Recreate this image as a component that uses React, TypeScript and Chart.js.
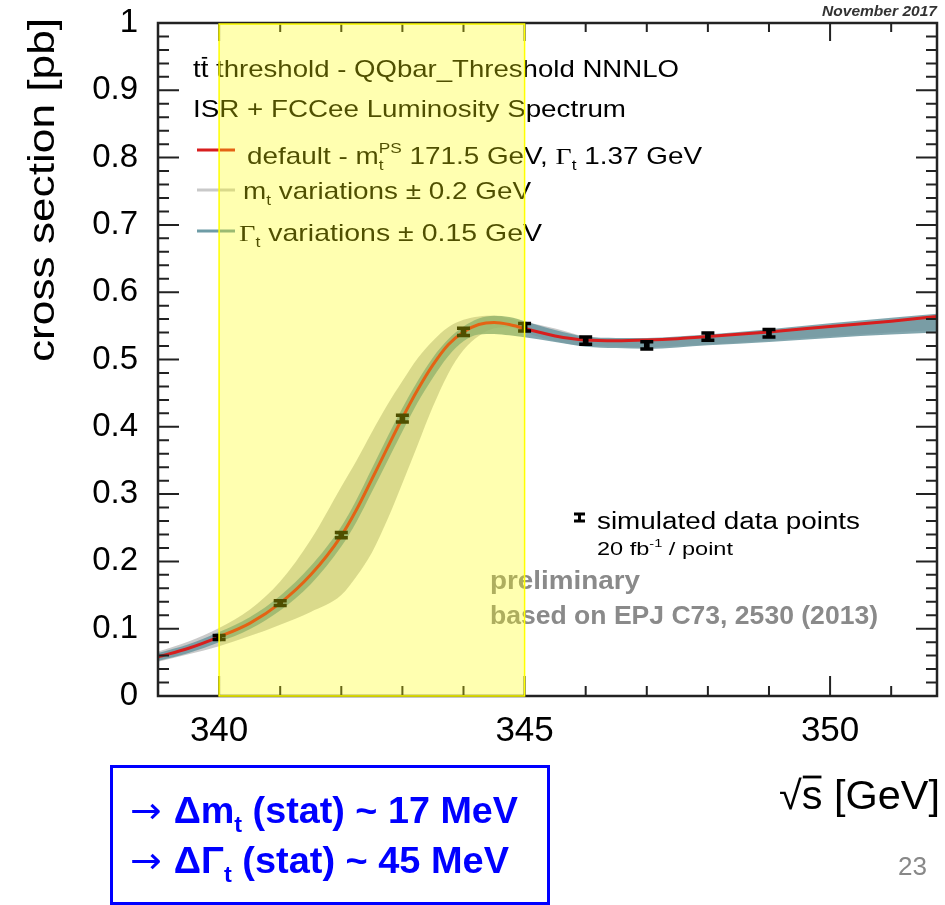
import React, { useEffect, useRef } from "react";
import { Chart, registerables } from "chart.js";

Chart.register(...registerables);

// ---------------- data ----------------
const curveSqrtS = [339, 339.5, 340, 340.5, 341, 341.5, 342, 342.25, 342.5, 342.75, 343, 343.25, 343.5, 343.75, 344, 344.25, 344.5, 344.75, 345, 345.5, 346, 346.5, 347, 347.5, 348, 349, 350, 351, 351.75];
const defaultXsec = [0.058, 0.071, 0.088, 0.108, 0.138, 0.18, 0.238, 0.277, 0.322, 0.368, 0.413, 0.455, 0.492, 0.522, 0.541, 0.552, 0.555, 0.552, 0.546, 0.535, 0.529, 0.528, 0.529, 0.531, 0.534, 0.541, 0.549, 0.557, 0.564];
const mtVarUpper = [0.066, 0.081, 0.101, 0.128, 0.17, 0.232, 0.311, 0.35, 0.392, 0.432, 0.468, 0.502, 0.528, 0.548, 0.559, 0.564, 0.565, 0.561, 0.556, 0.546, 0.534, 0.531, 0.531, 0.533, 0.536, 0.543, 0.551, 0.559, 0.565];
const mtVarLower = [0.051, 0.062, 0.074, 0.089, 0.106, 0.125, 0.15, 0.178, 0.213, 0.261, 0.316, 0.373, 0.43, 0.479, 0.514, 0.535, 0.546, 0.548, 0.54, 0.527, 0.52, 0.519, 0.518, 0.52, 0.522, 0.528, 0.534, 0.54, 0.544];
const gtVarUpper = [0.064, 0.077, 0.095, 0.117, 0.149, 0.193, 0.252, 0.292, 0.338, 0.384, 0.428, 0.468, 0.503, 0.53, 0.549, 0.561, 0.565, 0.563, 0.557, 0.544, 0.534, 0.532, 0.532, 0.534, 0.537, 0.545, 0.554, 0.562, 0.568];
const gtVarLower = [0.052, 0.064, 0.08, 0.099, 0.127, 0.166, 0.222, 0.259, 0.303, 0.348, 0.393, 0.436, 0.473, 0.505, 0.527, 0.537, 0.538, 0.536, 0.533, 0.526, 0.519, 0.517, 0.516, 0.518, 0.521, 0.526, 0.532, 0.537, 0.54];

const pointSqrtS = [340, 341, 342, 343, 344, 345, 346, 347, 348, 349];
const pointXsec = [0.087, 0.138, 0.239, 0.412, 0.541, 0.548, 0.528, 0.521, 0.534, 0.539];
const pointErr = [0.003, 0.0035, 0.004, 0.005, 0.0055, 0.0055, 0.0055, 0.0055, 0.0055, 0.0055];

const xTickValues = [340, 345, 350];
const xTickLabels = ["340", "345", "350"];
const yTickValues = [0, 0.1, 0.2, 0.3, 0.4, 0.5, 0.6, 0.7, 0.8, 0.9, 1];
const yTickLabels = ["0", "0.1", "0.2", "0.3", "0.4", "0.5", "0.6", "0.7", "0.8", "0.9", "1"];
const highlightRange = [340, 345];
const xRange = [339, 351.75];

const SANS = '"Liberation Sans", Arial, Helvetica, sans-serif';
const SERIF = '"Liberation Serif", "Times New Roman", serif';
const DEJAVU = '"DejaVu Sans", sans-serif';

type Seg = { t: string; k?: "sub" | "sup" | "subz" | "bar"; fam?: string; thin?: boolean };

function drawRich(
  ctx: CanvasRenderingContext2D,
  segs: Seg[],
  x: number,
  y: number,
  size: number,
  color: string,
  o: { weight?: string; style?: string; width?: number } = {}
) {
  const weight = o.weight || "normal";
  const style = o.style || "normal";
  let total = 0;
  let pendingSub = 0;
  const parts = segs.map((s) => {
    const small = s.k === "sub" || s.k === "sup" || s.k === "subz";
    const sz = small ? size * 0.62 : size;
    const wt = s.thin ? "normal" : weight;
    const font = `${style} ${wt} ${sz}px ${s.fam || SANS}`;
    ctx.font = font;
    const w = ctx.measureText(s.t).width;
    let adv = w;
    if (s.k === "subz") {
      pendingSub = w;
      adv = 0;
    } else if (pendingSub) {
      adv = Math.max(w, pendingSub);
      pendingSub = 0;
    }
    const dy = s.k === "sup" ? -size * 0.45 : s.k === "sub" || s.k === "subz" ? size * 0.24 : 0;
    total += adv;
    return { s, font, w, adv, dy };
  });
  const sx = o.width ? o.width / total : 1;
  ctx.save();
  ctx.translate(x, y);
  ctx.scale(sx, 1);
  ctx.fillStyle = color;
  ctx.strokeStyle = color;
  ctx.textAlign = "left";
  ctx.textBaseline = "alphabetic";
  let cx = 0;
  for (const p of parts) {
    ctx.font = p.font;
    ctx.fillText(p.s.t, cx, p.dy);
    if (p.s.k === "bar") {
      ctx.lineWidth = size * 0.07;
      ctx.beginPath();
      ctx.moveTo(cx + 1, -size * 0.8);
      ctx.lineTo(cx + p.w - 1, -size * 0.8);
      ctx.stroke();
    }
    cx += p.adv;
  }
  ctx.restore();
}

const curve = (vals: number[]) => curveSqrtS.map((x, i) => ({ x, y: vals[i] }));

export default function App() {
  const ref = useRef<HTMLCanvasElement | null>(null);

  useEffect(() => {
    const canvas = ref.current;
    if (!canvas) return;

    const decorPlugin = {
      id: "decor",
      afterDatasetsDraw(chart: any) {
        const ctx: CanvasRenderingContext2D = chart.ctx;
        const xs = chart.scales.x;
        const ys = chart.scales.y;
        const { left, right, top, bottom } = chart.chartArea;

        // error bars
        const meta = chart.getDatasetMeta(0);
        ctx.save();
        ctx.strokeStyle = "#000";
        ctx.lineWidth = 3.5;
        meta.data.forEach((pt: any, i: number) => {
          const y1 = ys.getPixelForValue(pointXsec[i] + pointErr[i]);
          const y2 = ys.getPixelForValue(pointXsec[i] - pointErr[i]);
          ctx.beginPath();
          ctx.moveTo(pt.x, y1);
          ctx.lineTo(pt.x, y2);
          ctx.moveTo(pt.x - 6.5, y1);
          ctx.lineTo(pt.x + 6.5, y1);
          ctx.moveTo(pt.x - 6.5, y2);
          ctx.lineTo(pt.x + 6.5, y2);
          ctx.stroke();
        });
        ctx.restore();

        // frame
        ctx.save();
        ctx.strokeStyle = "#222";
        ctx.lineWidth = 2.5;
        ctx.strokeRect(left, top, right - left, bottom - top);
        ctx.lineWidth = 2;
        ctx.beginPath();
        for (let k = 0; k <= 50; k++) {
          const v = k / 50;
          const yy = ys.getPixelForValue(v);
          const len = k % 5 === 0 ? 21 : 11;
          ctx.moveTo(left, yy);
          ctx.lineTo(left + len, yy);
          ctx.moveTo(right, yy);
          ctx.lineTo(right - len, yy);
        }
        for (let g = 340; g <= 351; g++) {
          const xx = xs.getPixelForValue(g);
          const major = g % 5 === 0;
          ctx.moveTo(xx, bottom);
          ctx.lineTo(xx, bottom - (major ? 20 : 10));
          ctx.moveTo(xx, top);
          ctx.lineTo(xx, top + (major ? 18 : 9));
        }
        ctx.stroke();
        ctx.restore();

        // legend inside the frame
        drawRich(ctx, [{ t: "t" }, { t: "t", k: "bar" }, { t: " threshold - QQbar_Threshold NNNLO" }], 193, 77, 24, "#000", { width: 486 });
        drawRich(ctx, [{ t: "ISR + FCCee Luminosity Spectrum" }], 193, 117, 24, "#000", { width: 433 });
        const samples: [number, string][] = [
          [150, "#d81e1e"],
          [190, "#c9c9c9"],
          [231, "#6e9ca6"],
        ];
        ctx.save();
        ctx.lineWidth = 3;
        samples.forEach(([yy, c]) => {
          ctx.strokeStyle = c;
          ctx.beginPath();
          ctx.moveTo(197, yy);
          ctx.lineTo(235, yy);
          ctx.stroke();
        });
        ctx.restore();
        drawRich(
          ctx,
          [
            { t: "default - m" },
            { t: "t", k: "subz" },
            { t: "PS", k: "sup" },
            { t: " 171.5 GeV, " },
            { t: "\u0393", fam: SERIF },
            { t: "t", k: "sub" },
            { t: " 1.37 GeV" },
          ],
          247,
          164,
          24,
          "#000",
          { width: 455 }
        );
        drawRich(ctx, [{ t: "m" }, { t: "t", k: "sub" }, { t: " variations \u00b1 0.2 GeV" }], 243, 199, 24, "#000", { width: 288 });
        drawRich(ctx, [{ t: "\u0393", fam: SERIF }, { t: "t", k: "sub" }, { t: " variations \u00b1 0.15 GeV" }], 239, 241, 24, "#000", { width: 303 });

        // data legend
        ctx.save();
        ctx.strokeStyle = "#000";
        ctx.lineWidth = 3;
        ctx.beginPath();
        ctx.moveTo(574, 514);
        ctx.lineTo(585, 514);
        ctx.moveTo(574, 521);
        ctx.lineTo(585, 521);
        ctx.moveTo(579.5, 514);
        ctx.lineTo(579.5, 521);
        ctx.stroke();
        ctx.restore();
        drawRich(ctx, [{ t: "simulated data points" }], 597, 529, 23, "#000", { width: 263 });
        drawRich(ctx, [{ t: "20 fb" }, { t: "-1", k: "sup" }, { t: " / point" }], 597, 555, 18, "#000", { width: 136 });

        drawRich(ctx, [{ t: "preliminary" }], 490, 589, 25, "#8a8a8a", { weight: "bold", width: 150 });
        drawRich(ctx, [{ t: "based on EPJ C73, 2530 (2013)" }], 490, 624, 25, "#8a8a8a", { weight: "bold", width: 388 });
      },
      afterDraw(chart: any) {
        const ctx: CanvasRenderingContext2D = chart.ctx;
        const xs = chart.scales.x;
        const { top, bottom } = chart.chartArea;
        const x0 = xs.getPixelForValue(highlightRange[0]);
        const x1 = xs.getPixelForValue(highlightRange[1]);
        ctx.save();
        ctx.fillStyle = "rgba(255,255,0,0.31)";
        ctx.fillRect(x0, top + 1, x1 - x0, bottom - top - 1);
        ctx.strokeStyle = "#ffff00";
        ctx.lineWidth = 1.5;
        ctx.strokeRect(x0, top + 1, x1 - x0, bottom - top - 1);
        ctx.restore();

        // outside texts
        ctx.save();
        ctx.translate(54, 362);
        ctx.rotate(-Math.PI / 2);
        drawRich(ctx, [{ t: "cross section [pb]" }], 0, 0, 36, "#000", { width: 344 });
        ctx.restore();

        drawRich(ctx, [{ t: "\u221a" }, { t: "s", k: "bar" }, { t: " [GeV]" }], 779, 809, 40, "#000", { width: 161 });
        drawRich(ctx, [{ t: "November 2017" }], 822, 16, 14, "#333", { style: "italic", weight: "bold", width: 115 });
        drawRich(ctx, [{ t: "23" }], 898, 875, 25, "#888", { width: 29 });

        // blue box
        ctx.save();
        ctx.strokeStyle = "#0000ff";
        ctx.lineWidth = 3;
        ctx.strokeRect(111.5, 766.5, 437, 137);
        ctx.restore();
        drawRich(
          ctx,
          [{ t: "\u2192 ", thin: true, fam: DEJAVU }, { t: "\u0394m" }, { t: "t", k: "sub" }, { t: " (stat) ~ 17 MeV" }],
          130,
          823,
          36,
          "#0000ff",
          { weight: "bold", width: 388 }
        );
        drawRich(
          ctx,
          [{ t: "\u2192 ", thin: true, fam: DEJAVU }, { t: "\u0394\u0393" }, { t: "t", k: "sub" }, { t: " (stat) ~ 45 MeV" }],
          130,
          873,
          36,
          "#0000ff",
          { weight: "bold", width: 379 }
        );
      },
    };

    const bandLine = { pointRadius: 0, borderWidth: 1, borderColor: "rgba(0,0,0,0)", cubicInterpolationMode: "monotone" as const };

    const chart = new Chart(canvas, {
      type: "line",
      data: {
        datasets: [
          {
            label: "simulated data points",
            data: pointSqrtS.map((x, i) => ({ x, y: pointXsec[i] })),
            showLine: false,
            pointStyle: "rect",
            pointRadius: 4,
            pointBackgroundColor: "#000",
            pointBorderWidth: 0,
            order: 0,
          },
          {
            label: "default",
            data: curve(defaultXsec),
            borderColor: "#d81e1e",
            borderWidth: 3,
            pointRadius: 0,
            fill: false,
            cubicInterpolationMode: "monotone",
            order: 1,
          },
          { label: "Gt up", data: curve(gtVarUpper), ...bandLine, backgroundColor: "rgba(108,150,160,0.85)", fill: "+1", order: 2 },
          { label: "Gt down", data: curve(gtVarLower), ...bandLine, fill: false, order: 3 },
          { label: "mt up", data: curve(mtVarUpper), ...bandLine, backgroundColor: "rgba(196,196,196,0.9)", fill: "+1", order: 4 },
          { label: "mt down", data: curve(mtVarLower), ...bandLine, fill: false, order: 5 },
        ],
      },
      options: {
        responsive: false,
        animation: false,
        devicePixelRatio: 1,
        layout: { padding: { top: 23, right: 8, left: 0, bottom: 0 } },
        plugins: { legend: { display: false }, tooltip: { enabled: false }, title: { display: false } },
        scales: {
          x: {
            type: "linear",
            min: xRange[0],
            max: xRange[1],
            grid: { display: false, drawTicks: false },
            border: { display: false },
            afterFit: (s: any) => {
              s.height = 209;
              s.paddingLeft = 0;
              s.paddingRight = 0;
            },
            afterBuildTicks: (s: any) => {
              s.ticks = xTickValues.map((v) => ({ value: v }));
            },
            ticks: {
              autoSkip: false,
              maxRotation: 0,
              padding: 14,
              color: "#000",
              font: { family: SANS, size: 35 },
              callback: (v: any) => {
                const i = xTickValues.indexOf(Number(v));
                return i >= 0 ? xTickLabels[i] : "";
              },
            },
          },
          y: {
            type: "linear",
            min: 0,
            max: 1,
            grid: { display: false, drawTicks: false },
            border: { display: false },
            afterFit: (s: any) => {
              s.width = 158;
              s.paddingTop = 0;
              s.paddingBottom = 0;
            },
            afterBuildTicks: (s: any) => {
              s.ticks = yTickValues.map((v) => ({ value: v }));
            },
            ticks: {
              autoSkip: false,
              padding: 20,
              color: "#000",
              font: { family: SANS, size: 33 },
              callback: (v: any) => {
                const i = yTickValues.indexOf(Number(v));
                return i >= 0 ? yTickLabels[i] : "";
              },
            },
          },
        },
      },
      plugins: [decorPlugin],
    });

    return () => chart.destroy();
  }, []);

  return (
    <div style={{ position: "absolute", left: 0, top: 0, width: 945, height: 905, background: "#fff" }}>
      <canvas ref={ref} width={945} height={905} style={{ display: "block", width: 945, height: 905 }} />
    </div>
  );
}
